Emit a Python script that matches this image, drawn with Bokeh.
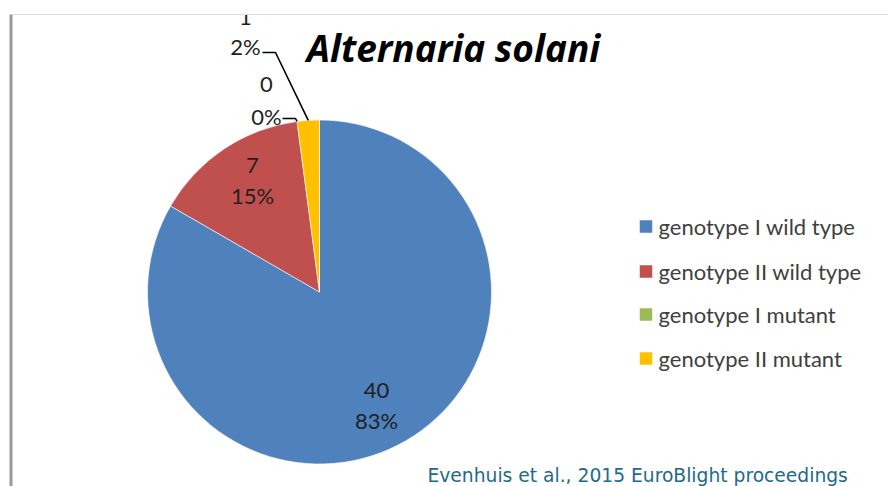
from math import pi, sin, cos
from bokeh.plotting import figure
from bokeh.models import Range1d, ColumnDataSource
from bokeh.core.properties import value
from bokeh.embed import file_html
from bokeh.resources import INLINE

# ---------------- data ----------------
title = "Alternaria solani"
categories = ["genotype I wild type", "genotype II wild type",
              "genotype I mutant", "genotype II mutant"]
counts = [40, 7, 0, 1]
colors = ["#4F81BD", "#C0504D", "#9BBB59", "#FFC000"]
source_note = "Evenhuis et al., 2015 EuroBlight proceedings"

# ---------------- layout ----------------
W, H = 888, 486


def X(px):
    return px


def Y(py):
    return H - py


CX, CY, R = X(319), Y(291.5), 172
lab_x = [376, 252, 266, 245]
val_y = [390, 165, 84, 17]
pct_y = [420, 195, 116, 46]
leg_x_sq, leg_x_txt = 645.5, 658
leg_y = [226, 271, 314, 358]

total = sum(counts)
fracs = [c / total for c in counts]
cum = [0.0]
for f in fracs:
    cum.append(cum[-1] + f)
start = [pi / 2 - 2 * pi * cum[i] for i in range(len(counts))]
end = [pi / 2 - 2 * pi * cum[i + 1] for i in range(len(counts))]
pcts = [f"{round(100 * f)}%" for f in fracs]

p = figure(width=W, height=H, x_range=Range1d(0, W), y_range=Range1d(0, H),
           output_backend="svg", toolbar_location=None, min_border=0,
           x_axis_location=None, y_axis_location=None)
p.grid.visible = False
p.outline_line_color = None
p.background_fill_color = "white"
p.border_fill_color = "white"

# wedges (skip zero-size slices)
idx = [i for i, c in enumerate(counts) if c > 0]
wsrc = ColumnDataSource(dict(start=[start[i] for i in idx], end=[end[i] for i in idx],
                             color=[colors[i] for i in idx]))
p.wedge(x=CX, y=CY, radius=R, start_angle="start", end_angle="end",
        direction="clock", fill_color="color", line_color="white",
        line_width=0.6, source=wsrc)

# leader lines for the small slices
def edge_point(i):
    a = pi / 2 - 2 * pi * (cum[i] + fracs[i] / 2)
    return CX + R * cos(a), CY + R * sin(a)

ex3, ey3 = edge_point(3)
p.line(x=[X(262), X(275), ex3], y=[Y(52), Y(52), ey3], line_color="black", line_width=1.6)
ex2, ey2 = edge_point(2)
p.line(x=[X(282), X(295), ex2], y=[Y(118), Y(118), ey2], line_color="black", line_width=1.6)

# data labels
lsrc = ColumnDataSource(dict(x=[X(v) for v in lab_x], vy=[Y(v) for v in val_y],
                             py=[Y(v) for v in pct_y],
                             val=[str(c) for c in counts], pct=pcts))
common = dict(text_font=value("Lato"), text_font_size="22px", text_color="#1f1f1f",
              text_align="center", text_baseline="middle", source=lsrc)
p.text(x="x", y="vy", text="val", **common)
p.text(x="x", y="py", text="pct", **common)

# white cover above the slide edge
p.quad(left=0, right=W, bottom=Y(14), top=H, fill_color="white", line_color=None)
p.segment(x0=X(12), y0=Y(14), x1=W, y1=Y(14), line_color="#dedede", line_width=1)
p.segment(x0=X(10.5), y0=Y(14), x1=X(10.5), y1=0, line_color="#9a9a9a", line_width=3)

# title
p.text(x=[X(453)], y=[Y(47)], text=[title], text_font=value("Open Sans"),
       text_font_style="bold italic", text_font_size="37px", text_color="black",
       text_align="center", text_baseline="alphabetic")

# legend
gsrc = ColumnDataSource(dict(x=[X(leg_x_sq)] * len(categories), tx=[X(leg_x_txt)] * len(categories),
                             y=[Y(v) for v in leg_y], label=categories, color=colors))
p.scatter(x="x", y="y", marker="square", size=12.5, fill_color="color",
          line_color=None, source=gsrc)
p.text(x="tx", y="y", text="label", text_font=value("Lato"), text_font_size="22px",
       text_color="#404040", text_align="left", text_baseline="middle", source=gsrc)

# source note
p.text(x=[X(427)], y=[Y(475)], text=[source_note], text_font=value("DejaVu Sans"),
       text_font_size="18.7px", text_color="#1F6A8A", text_align="left",
       text_baseline="middle")

open("out.html", "w").write(file_html(p, INLINE))
